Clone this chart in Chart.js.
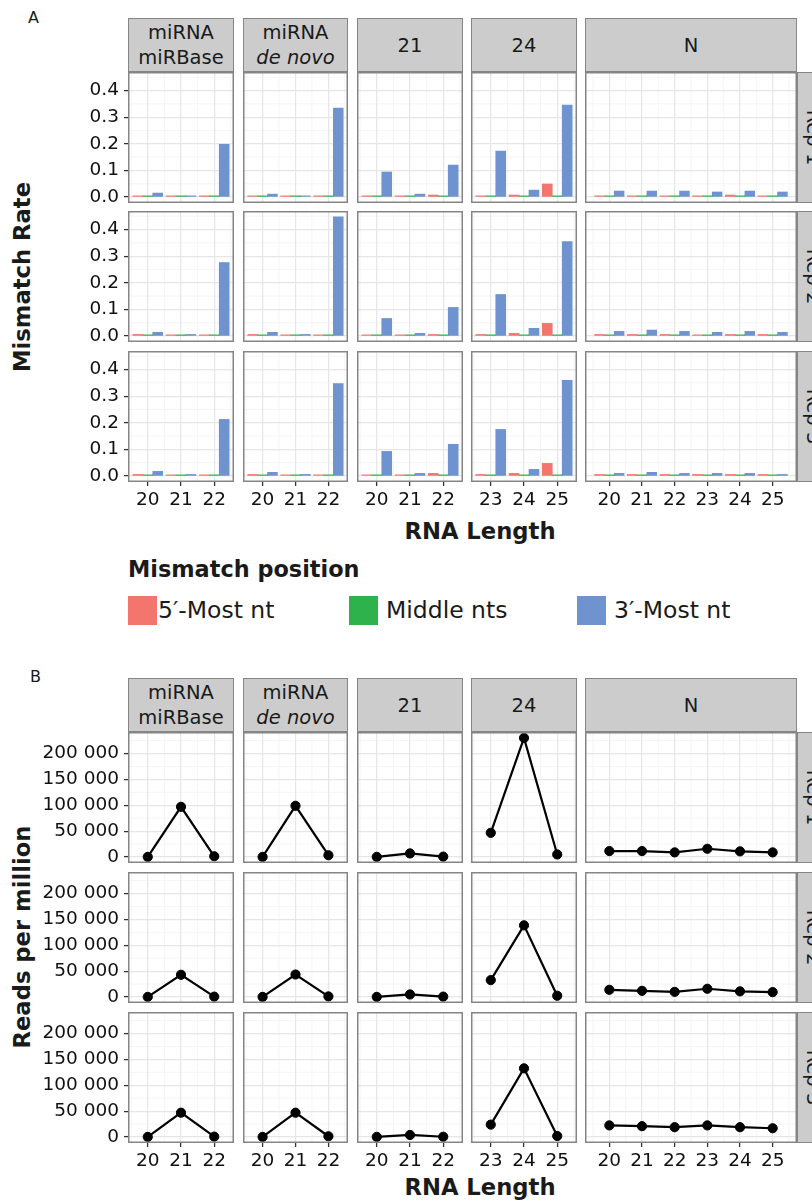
<!DOCTYPE html>
<html>
<head>
<meta charset="utf-8">
<script src="https://cdn.jsdelivr.net/npm/chart.js@4.4.1/dist/chart.umd.min.js"></script>
<style>
  html, body { margin: 0; padding: 0; background: #fff; }
  #fig { position: relative; width: 812px; height: 1201px; overflow: hidden; font-family: 'DejaVu Sans', sans-serif; color: #1a1a1a; }
  #fig canvas { position: absolute; }
  .strip { position: absolute; box-sizing: border-box; background: #cccccc; border: 1.5px solid #858585;
           display: flex; align-items: center; justify-content: center; text-align: center; font-size: 19.5px; line-height: 25px; }
  .strip span { white-space: nowrap; }
  .rstrip span { display: block; transform: rotate(90deg); }
  .title { position: absolute; font-weight: bold; font-size: 22.7px; white-space: nowrap; transform: translate(-50%, -50%); }
  .ytitle { transform: translate(-50%, -50%) rotate(-90deg); }
  .tag { position: absolute; font-size: 16px; }
  .leg { position: absolute; white-space: nowrap; line-height: 24px; }
  .key { position: absolute; width: 29px; height: 29px; }
</style>
</head>
<body>
<div id="fig">
  <div class="tag" style="left:28px; top:8px">A</div>
  <div class="tag" style="left:30px; top:667px">B</div>

  <div class="title ytitle" style="left:22px; top:277px">Mismatch Rate</div>
  <div class="title" style="left:480px; top:531px">RNA Length</div>
  <div class="title ytitle" style="left:22px; top:937px">Reads per million</div>
  <div class="title" style="left:480px; top:1187px">RNA Length</div>

  <div class="leg" style="left:128px; top:557px; font-size:22.4px; font-weight:bold">Mismatch position</div>
  <div class="key" style="left:128px; top:596px; background:#F2766E"></div>
  <div class="leg" style="left:158px; top:598px; font-size:23.5px">5′-Most nt</div>
  <div class="key" style="left:349px; top:596px; background:#2EB24B"></div>
  <div class="leg" style="left:386px; top:598px; font-size:23.5px">Middle nts</div>
  <div class="key" style="left:577px; top:596px; background:#6E93CE"></div>
  <div class="leg" style="left:614px; top:598px; font-size:23.5px">3′-Most nt</div>
</div>

<script>
// facets and categories
const facetNames = ['miRNA<br>miRBase', 'miRNA<br><i>de novo</i>', '21', '24', 'N'];
const repNames = ['Rep 1', 'Rep 2', 'Rep 3'];
const miRNALengths = ['20', '21', '22'];
const length24 = ['23', '24', '25'];
const lengthN = ['20', '21', '22', '23', '24', '25'];
const facetLengths = [miRNALengths, miRNALengths, miRNALengths, length24, lengthN];

// mismatch rate, values in facet order (miRBase, de novo, 21, 24, N)
const fivePrimeRep1 = [0.003, 0.002, 0.002, 0.003, 0.002, 0.002, 0.004, 0.003, 0.0075, 0.004, 0.0075, 0.049, 0.004, 0.004, 0.004, 0.004, 0.0075, 0.004];
const fivePrimeRep2 = [0.006, 0.002, 0.002, 0.006, 0.002, 0.002, 0.003, 0.003, 0.006, 0.006, 0.01, 0.0475, 0.006, 0.006, 0.006, 0.003, 0.006, 0.006];
const fivePrimeRep3 = [0.006, 0.002, 0.002, 0.006, 0.002, 0.002, 0.002, 0.002, 0.01, 0.006, 0.01, 0.0475, 0.006, 0.006, 0.006, 0.006, 0.006, 0.006];
const middleRep1 = [0.002, 0.002, 0.002, 0.002, 0.002, 0.002, 0.002, 0.002, 0.002, 0.002, 0.002, 0.002, 0.002, 0.002, 0.002, 0.002, 0.002, 0.002];
const middleRep2 = [0.002, 0.002, 0.002, 0.002, 0.002, 0.002, 0.002, 0.002, 0.002, 0.002, 0.002, 0.002, 0.002, 0.002, 0.002, 0.002, 0.002, 0.002];
const middleRep3 = [0.002, 0.002, 0.002, 0.002, 0.002, 0.002, 0.002, 0.002, 0.002, 0.002, 0.002, 0.002, 0.002, 0.002, 0.002, 0.002, 0.002, 0.002];
const threePrimeRep1 = [0.015, 0.004, 0.198, 0.011, 0.004, 0.334, 0.094, 0.011, 0.12, 0.1725, 0.026, 0.345, 0.0225, 0.0225, 0.0225, 0.019, 0.0225, 0.019];
const threePrimeRep2 = [0.014, 0.006, 0.276, 0.014, 0.006, 0.447, 0.066, 0.01, 0.1075, 0.156, 0.029, 0.355, 0.0175, 0.0225, 0.0175, 0.014, 0.0175, 0.014];
const threePrimeRep3 = [0.0175, 0.006, 0.2125, 0.014, 0.006, 0.3475, 0.0925, 0.01, 0.119, 0.175, 0.025, 0.359, 0.01, 0.014, 0.01, 0.01, 0.01, 0.006];

// reads per million, same order
const readsRep1 = [300, 97000, 1500, 300, 99000, 3500, 300, 7000, 800, 46700, 230000, 5000, 11500, 11500, 9000, 16000, 11000, 9000];
const readsRep2 = [300, 43000, 800, 300, 43500, 1200, 300, 5000, 800, 32700, 138500, 2500, 14000, 12000, 10000, 16000, 11000, 9500];
const readsRep3 = [300, 47000, 800, 300, 47000, 1500, 300, 4000, 600, 24000, 132700, 2000, 22500, 21000, 19000, 22500, 19000, 17000];

const rateTicks = [0, 0.1, 0.2, 0.3, 0.4];
const readTicks = [0, 50000, 100000, 150000, 200000];

const fivePrime = [fivePrimeRep1, fivePrimeRep2, fivePrimeRep3];
const middle = [middleRep1, middleRep2, middleRep3];
const threePrime = [threePrimeRep1, threePrimeRep2, threePrimeRep3];
const reads = [readsRep1, readsRep2, readsRep3];

// layout
const colX = [128, 243, 357, 471, 585];
const colW = [106, 105, 106, 106, 212];
const rowsA = [72, 211, 351];
const rowsB = [732, 872, 1012];
const rowH = 131;
const yAxisW = 100;
const xAxisH = 34;
const fig = document.getElementById('fig');

Chart.defaults.font.family = "'DejaVu Sans', sans-serif";
Chart.defaults.color = '#111';

const tickFont = { size: 18.5 };
const spaced = v => String(v).replace(/\B(?=(\d{3})+(?!\d))/g, ' ');

// minor grid under everything, grey frame on top
const panelFrame = {
  id: 'panelFrame',
  beforeDraw(chart, args, opts) {
    const { ctx, chartArea: a, scales: { x, y } } = chart;
    ctx.save();
    ctx.strokeStyle = '#f3f3f3';
    ctx.lineWidth = 0.8;
    ctx.beginPath();
    for (let i = 0; i <= opts.n; i++) {
      const v = i - 0.5;
      if (v < x.min || v > x.max) continue;
      const px = x.getPixelForValue(v);
      ctx.moveTo(px, a.top); ctx.lineTo(px, a.bottom);
    }
    const t = opts.yTicks, step = t[1] - t[0];
    for (let v = t[0] - step / 2; v <= y.max; v += step) {
      if (v < y.min) continue;
      const py = y.getPixelForValue(v);
      ctx.moveTo(a.left, py); ctx.lineTo(a.right, py);
    }
    ctx.stroke();
    ctx.restore();
  },
  afterDraw(chart) {
    const { ctx, chartArea: a } = chart;
    ctx.save();
    ctx.strokeStyle = '#858585';
    ctx.lineWidth = 1.5;
    ctx.strokeRect(a.left + 0.75, a.top + 0.75, a.width - 1.5, a.height - 1.5);
    ctx.restore();
  }
};

function noPad(s) {
  s.paddingTop = 0; s.paddingBottom = 0; s.paddingLeft = 0; s.paddingRight = 0;
}

function facetSlice(arr, c) {
  let start = 0;
  for (let i = 0; i < c; i++) start += facetLengths[i].length;
  return arr.slice(start, start + facetLengths[c].length);
}

// ggplot-like continuous range: bars of width 0.9 plus 5% expansion
const xPad = n => 0.45 + 0.05 * (n - 1 + 0.9);

function xScale(labels, show) {
  const n = labels.length;
  const pad = xPad(n);
  return {
    type: 'linear', min: -pad, max: n - 1 + pad, bounds: 'data', offset: false,
    afterBuildTicks: s => { s.ticks = labels.map((_, i) => ({ value: i })); },
    afterFit: s => { s.height = show ? xAxisH : 0; noPad(s); },
    grid: { offset: false, color: '#e6e6e6', lineWidth: 1.2, drawTicks: show, tickLength: 4, tickColor: '#333', tickWidth: 1.3 },
    border: { display: false },
    ticks: { display: show, padding: 3, font: tickFont, autoSkip: false, maxRotation: 0, callback: v => labels[v] }
  };
}

function yScale(ticks, maxVal, show, fmt) {
  return {
    min: -0.05 * maxVal, max: 1.05 * maxVal, bounds: 'data',
    afterBuildTicks: s => { s.ticks = ticks.map(v => ({ value: v })); },
    afterFit: s => { s.width = show ? yAxisW : 0; noPad(s); },
    grid: { color: '#e6e6e6', lineWidth: 1.2, drawTicks: show, tickLength: 4, tickColor: '#333', tickWidth: 1.3 },
    border: { display: false },
    ticks: { display: show, padding: 5, font: tickFont, autoSkip: false, callback: fmt }
  };
}

function addCanvas(r, c, top) {
  const cv = document.createElement('canvas');
  const left = colX[c] - (c === 0 ? yAxisW : 0);
  const w = colW[c] + (c === 0 ? yAxisW : 0);
  const h = rowH + (r === 2 ? xAxisH : 0);
  cv.width = w; cv.height = h;
  cv.style.left = left + 'px'; cv.style.top = top + 'px';
  cv.style.width = w + 'px'; cv.style.height = h + 'px';
  fig.appendChild(cv);
  return cv;
}

function addStrip(html, left, top, w, h, right) {
  const d = document.createElement('div');
  d.className = right ? 'strip rstrip' : 'strip';
  d.style.left = left + 'px'; d.style.top = top + 'px';
  d.style.width = w + 'px'; d.style.height = h + 'px';
  d.innerHTML = '<span>' + html + '</span>';
  fig.appendChild(d);
}

const toPts = vals => vals.map((v, i) => ({ x: i, y: v }));
const rateMax = Math.max(...threePrime.flat(), ...fivePrime.flat());
const readMax = Math.max(...reads.flat());

const baseOptions = {
  animation: false, responsive: false, maintainAspectRatio: false,
  layout: { padding: 0, autoPadding: false }
};

// panel A: mismatch rate bars
for (let r = 0; r < 3; r++) {
  for (let c = 0; c < 5; c++) {
    const labels = facetLengths[c];
    const n = labels.length;
    const barW = 0.3 * colW[c] / (n - 1 + 2 * xPad(n));
    new Chart(addCanvas(r, c, rowsA[r]), {
      type: 'bar',
      data: {
        datasets: [
          { label: '5′-Most nt', data: toPts(facetSlice(fivePrime[r], c)), backgroundColor: '#F2766E' },
          { label: 'Middle nts', data: toPts(facetSlice(middle[r], c)), backgroundColor: '#2EB24B' },
          { label: '3′-Most nt', data: toPts(facetSlice(threePrime[r], c)), backgroundColor: '#6E93CE' }
        ]
      },
      options: {
        ...baseOptions,
        datasets: { bar: { barThickness: barW, minBarLength: 1.2 } },
        plugins: { legend: { display: false }, tooltip: { enabled: false }, panelFrame: { n: n, yTicks: rateTicks } },
        scales: {
          x: xScale(labels, r === 2),
          y: yScale(rateTicks, rateMax, c === 0, v => v.toFixed(1))
        }
      },
      plugins: [panelFrame]
    });
  }
}

// panel B: reads per million lines
for (let r = 0; r < 3; r++) {
  for (let c = 0; c < 5; c++) {
    const labels = facetLengths[c];
    new Chart(addCanvas(r, c, rowsB[r]), {
      type: 'line',
      data: {
        datasets: [{
          data: toPts(facetSlice(reads[r], c)),
          borderColor: '#000', borderWidth: 2.2, tension: 0,
          pointRadius: 4.6, pointBackgroundColor: '#000', pointBorderColor: '#000', pointBorderWidth: 1,
          clip: 10
        }]
      },
      options: {
        ...baseOptions,
        plugins: { legend: { display: false }, tooltip: { enabled: false }, panelFrame: { n: labels.length, yTicks: readTicks } },
        scales: {
          x: xScale(labels, r === 2),
          y: yScale(readTicks, readMax, c === 0, spaced)
        }
      },
      plugins: [panelFrame]
    });
  }
}

// facet strips
for (const [stripTop, rows] of [[18, rowsA], [678, rowsB]]) {
  for (let c = 0; c < 5; c++) addStrip(facetNames[c], colX[c], stripTop, colW[c], 54, false);
  for (let r = 0; r < 3; r++) addStrip(repNames[r], 797, rows[r], 34, rowH, true);
}
</script>
</body>
</html>
